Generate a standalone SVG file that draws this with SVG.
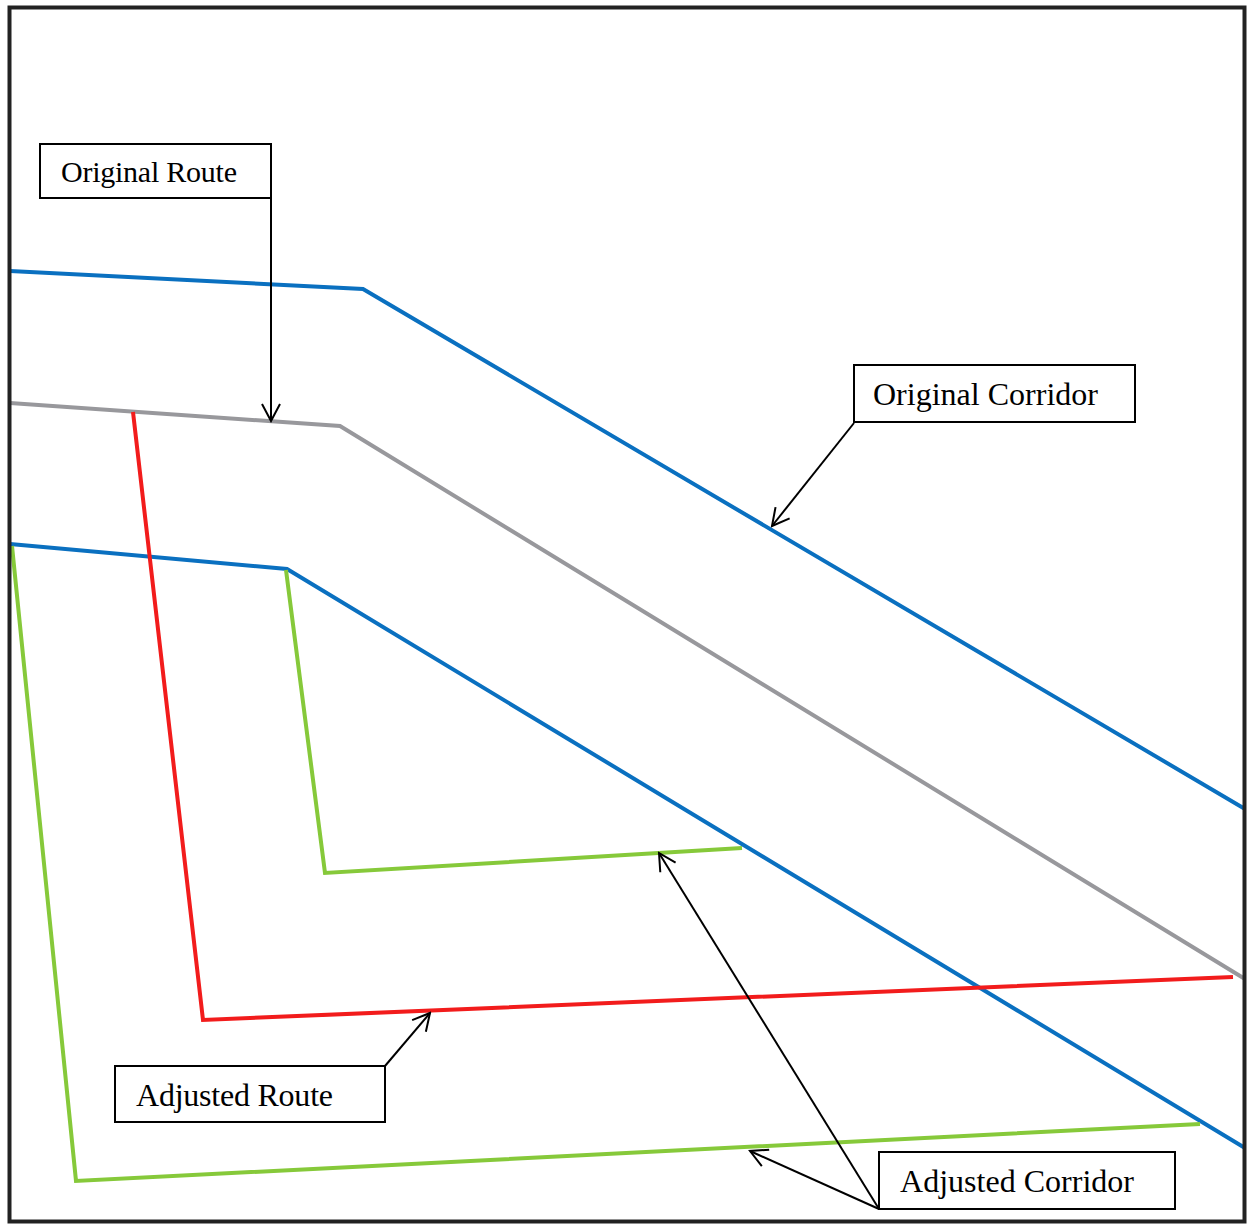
<svg xmlns="http://www.w3.org/2000/svg" width="1247" height="1224" viewBox="0 0 1247 1224">
<style>
.route{fill:none;stroke-width:4;stroke-linejoin:miter}
.blue{stroke:#0a70c0}
.gray{stroke:#98989c}
.red{stroke:#f21c1c}
.green{stroke:#86c93a}
.box{fill:#fff;stroke:#000;stroke-width:2}
.lbl{font-family:"Liberation Serif","Times New Roman",serif;font-size:32px;fill:#000}
.lead{fill:none;stroke:#000;stroke-width:2}
</style>
<defs>
<marker id="arr" viewBox="0 0 20 20" refX="18" refY="10" markerWidth="20" markerHeight="20" markerUnits="userSpaceOnUse" orient="auto">
<path d="M1,1 L18,10 L1,19" fill="none" stroke="#000" stroke-width="2"/>
</marker>
</defs>
<rect x="0" y="0" width="1247" height="1224" fill="#fff"/>
<g id="lines">
<polyline id="corridor-top" class="route blue" points="10,271 363,289 1245,809"/>
<polyline id="route-original" class="route gray" points="10,403 340,426 1245,979"/>
<polyline id="corridor-bottom" class="route blue" points="10,544 287,569 1245,1148"/>
<polyline id="route-adjusted" class="route red" points="133,412 203,1020 1233,977"/>
<polyline id="adj-corridor-outer" class="route green" points="12,546 76,1181 1200,1124"/>
<polyline id="adj-corridor-inner" class="route green" points="286,570 325,873 742,848"/>
</g>
<rect x="9.5" y="7.5" width="1235" height="1214" fill="none" stroke="#222" stroke-width="4"/>
<g id="connectors">
<polyline class="lead" points="271,198 271,421" marker-end="url(#arr)"/>
<line class="lead" x1="854" y1="423" x2="772" y2="526" marker-end="url(#arr)"/>
<line class="lead" x1="385" y1="1066" x2="430" y2="1013" marker-end="url(#arr)"/>
<line class="lead" x1="879" y1="1209" x2="659" y2="853" marker-end="url(#arr)"/>
<line class="lead" x1="879" y1="1209" x2="750" y2="1151" marker-end="url(#arr)"/>
</g>
<g id="label-original-route">
<rect class="box" x="40" y="144" width="231" height="54"/>
<text class="lbl" x="61" y="182" style="font-size:30px" textLength="176">Original Route</text>
</g>
<g id="label-original-corridor">
<rect class="box" x="854" y="365" width="281" height="57"/>
<text class="lbl" x="873" y="405" textLength="225">Original Corridor</text>
</g>
<g id="label-adjusted-route">
<rect class="box" x="115" y="1066" width="270" height="56"/>
<text class="lbl" x="136" y="1106" textLength="197">Adjusted Route</text>
</g>
<g id="label-adjusted-corridor">
<rect class="box" x="879" y="1152" width="296" height="57"/>
<text class="lbl" x="900" y="1192" textLength="234">Adjusted Corridor</text>
</g>
</svg>
